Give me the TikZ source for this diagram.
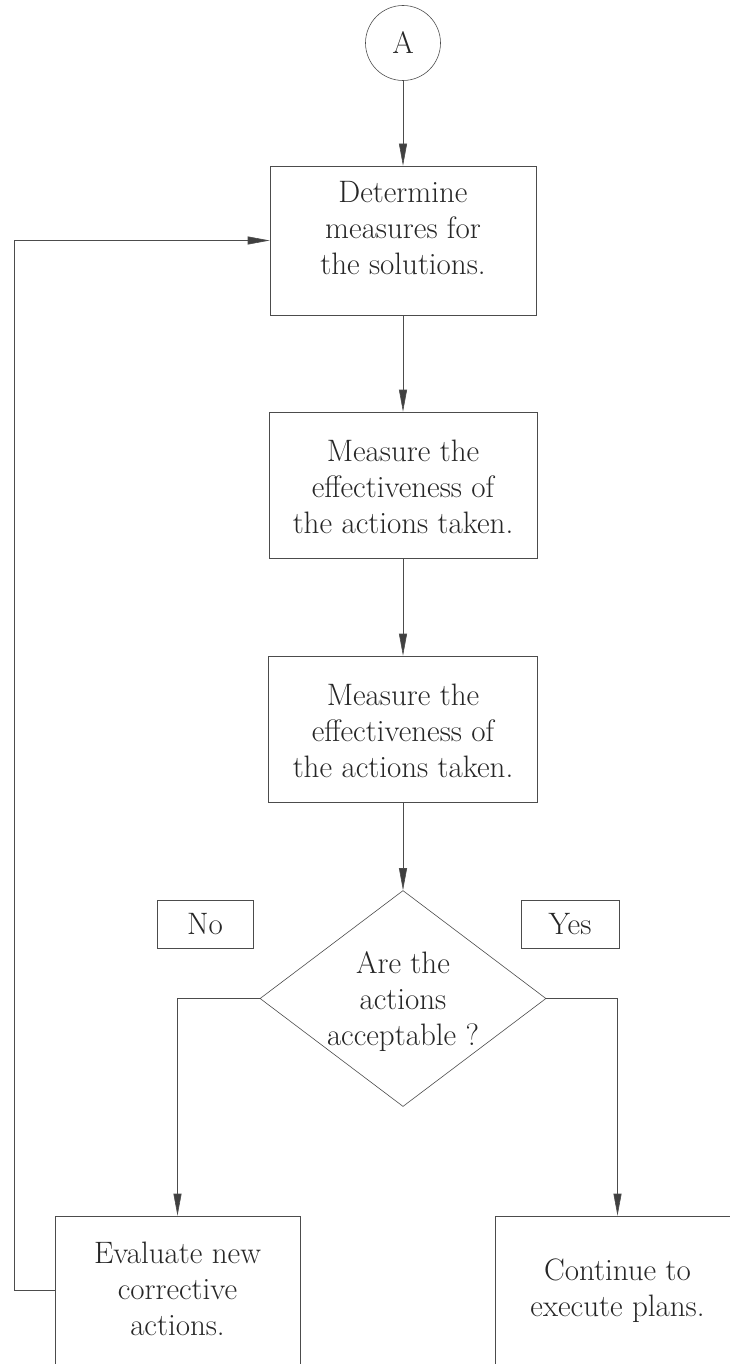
\documentclass[tikz,border=0pt]{standalone}
\usepackage{fontspec}
\usetikzlibrary{arrows.meta,shapes.geometric}
\tikzset{
  ln/.style={draw=black!70, line width=0.6pt},
  arr/.style={ln, -{Triangle[length=22pt,width=8pt,fill=black!75]}},
  box/.style={ln, rectangle, inner sep=0pt},
  txt/.style={align=center, text=black!85, font=\fontsize{31}{36}\selectfont},
}
\begin{document}
\begin{tikzpicture}[x=1pt,y=-1pt]
\useasboundingbox (0,0) rectangle (730,1364);
% connector circle
\node[ln, circle, minimum size=75pt, inner sep=0pt, txt] (A) at (403,43) {A};
% boxes
\node[box, minimum width=266pt, minimum height=149pt,
      label={[txt, yshift=12pt]center:Determine\\measures for\\the solutions.}] (b1) at (403,240.5) {};
\node[box, minimum width=268pt, minimum height=146pt,
      label={[txt, yshift=-2pt]center:Measure the\\effectiveness of\\the actions taken.}] (b2) at (403,485) {};
\node[box, minimum width=269pt, minimum height=146pt,
      label={[txt, yshift=-2pt]center:Measure the\\effectiveness of\\the actions taken.}] (b3) at (403,729) {};
% decision
\node[ln, diamond, inner sep=0pt, minimum width=286pt, minimum height=216pt,
      label={[txt, yshift=-3pt]center:Are the\\actions\\acceptable ?}] (d) at (403,998.5) {};
% yes / no labels
\node[box, minimum width=96pt, minimum height=48pt, txt] (no) at (205,924) {No};
\node[box, minimum width=98pt, minimum height=48pt, txt] (yes) at (570,924) {Yes};
% bottom boxes (run off the page bottom)
\node[box, minimum width=245pt, minimum height=190pt,
      label={[txt, yshift=22pt]center:Evaluate new\\corrective\\actions.}] (ev) at (177.5,1311) {};
\node[box, minimum width=245pt, minimum height=190pt,
      label={[txt, yshift=20pt]center:Continue to\\execute plans.}] (co) at (617.5,1311) {};
% connectors
\draw[arr] (A.south) -- (b1.north);
\draw[arr] (b1.south) -- (b2.north);
\draw[arr] (b2.south) -- (b3.north);
\draw[arr] (b3.south) -- (d.north);
\draw[arr] (d.west) -| (ev.north);
\draw[arr] (d.east) -| (co.north);
\draw[arr] ([yshift=21pt]ev.west) -- ++(-40,0) |- (b1.west);
\end{tikzpicture}
\end{document}
